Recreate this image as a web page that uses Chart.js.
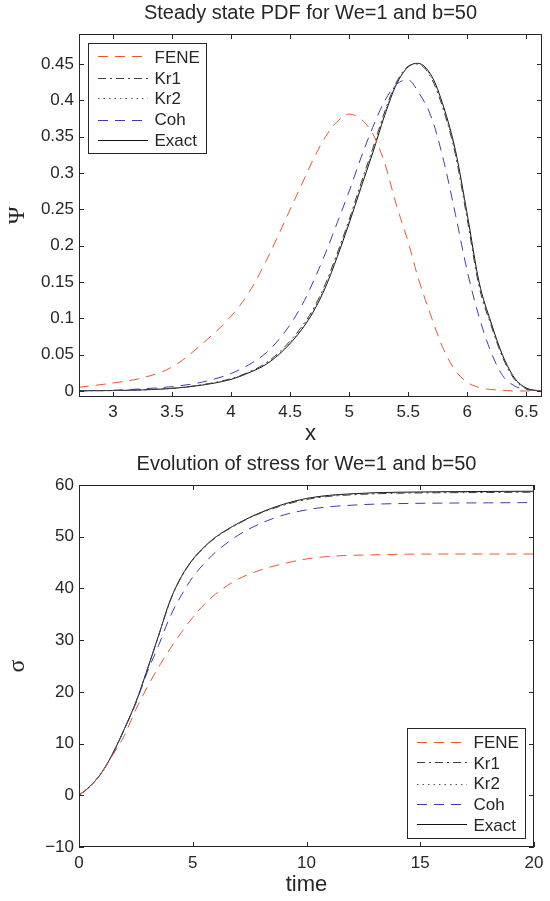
<!DOCTYPE html>
<html>
<head>
<meta charset="utf-8">
<title>Steady state PDF / Evolution of stress</title>
<script src="https://cdn.jsdelivr.net/npm/chart.js@4.4.1/dist/chart.umd.min.js"></script>
<style>
  html, body { margin: 0; padding: 0; background: #fff; }
  canvas { display: block; }
</style>
</head>
<body>
<canvas id="pdfChart" width="550" height="450"></canvas>
<canvas id="stressChart" width="550" height="451"></canvas>
<script>
// ------------------------
// DATA
// ------------------------
const seriesNames = ["FENE", "Kr1", "Kr2", "Coh", "Exact"];

// top panel: steady state PDF, We=1, b=50
const pdfX = [2.71, 3.0, 3.25, 3.5, 3.75, 4.0, 4.15, 4.3, 4.45, 4.6, 4.7, 4.8, 4.9, 5.0, 5.1,
              5.2, 5.3, 5.4, 5.5, 5.58, 5.7, 5.8, 5.9, 6.0, 6.1, 6.2, 6.3, 6.4, 6.5, 6.633];
const pdfFENE  = [0.005, 0.011, 0.018, 0.033, 0.064, 0.103, 0.135, 0.180, 0.232, 0.285, 0.320, 0.350, 0.371, 0.381, 0.374,
                  0.354, 0.314, 0.256, 0.205, 0.158, 0.100, 0.057, 0.028, 0.012, 0.005, 0.002, 0.001, 0, 0, 0];
const pdfKr1   = [0.0003, 0.0006, 0.0016, 0.0037, 0.0085, 0.017, 0.026, 0.039, 0.060, 0.089, 0.114, 0.148, 0.190, 0.236, 0.286,
                  0.334, 0.384, 0.425, 0.447, 0.450, 0.429, 0.386, 0.325, 0.236, 0.144, 0.091, 0.046, 0.016, 0.003, 0];
const pdfKr2   = [0.0003, 0.0006, 0.0015, 0.0036, 0.0083, 0.0165, 0.0255, 0.038, 0.058, 0.087, 0.112, 0.145, 0.187, 0.233, 0.283,
                  0.331, 0.382, 0.423, 0.446, 0.4505, 0.431, 0.388, 0.328, 0.240, 0.147, 0.093, 0.047, 0.017, 0.0035, 0];
const pdfCoh   = [0.0003, 0.001, 0.003, 0.006, 0.012, 0.024, 0.036, 0.053, 0.080, 0.118, 0.152, 0.190, 0.232, 0.275, 0.321,
                  0.363, 0.399, 0.422, 0.428, 0.413, 0.375, 0.317, 0.243, 0.165, 0.102, 0.054, 0.021, 0.007, 0.002, 0];
const pdfExact = [0.0003, 0.0006, 0.0015, 0.0035, 0.008, 0.016, 0.025, 0.037, 0.057, 0.085, 0.110, 0.143, 0.185, 0.231, 0.280,
                  0.328, 0.379, 0.422, 0.446, 0.451, 0.433, 0.391, 0.331, 0.243, 0.150, 0.095, 0.049, 0.018, 0.004, 0];

// bottom panel: evolution of stress, We=1, b=50
const stressT = [0, 0.5, 1, 1.5, 2, 2.5, 3, 3.5, 4, 4.5, 5, 5.5, 6, 7, 8, 9, 10, 11, 12, 13, 14, 16, 18, 20];
const stressFENE  = [0, 1.8, 4.4, 7.9, 11.6, 16.6, 20.9, 24.8, 28.3, 31.5, 34.4, 36.9, 38.9, 41.8, 43.6, 44.8, 45.7, 46.2, 46.4, 46.5, 46.6, 46.65, 46.65, 46.65];
const stressKr1   = [0, 1.8, 4.4, 8.2, 12.9, 18.0, 24.3, 30.9, 37.5, 42.2, 45.5, 47.9, 49.8, 52.5, 54.6, 56.1, 57.2, 57.8, 58.1, 58.3, 58.4, 58.5, 58.55, 58.6];
const stressKr2   = [0, 1.8, 4.4, 8.2, 12.9, 18.0, 24.3, 30.9, 37.6, 42.3, 45.6, 48.0, 49.9, 52.6, 54.7, 56.2, 57.3, 57.9, 58.2, 58.4, 58.5, 58.6, 58.65, 58.7];
const stressCoh   = [0, 1.8, 4.4, 8.2, 12.8, 17.8, 23.8, 29.0, 34.5, 38.7, 42.2, 44.8, 47.0, 50.3, 52.6, 54.2, 55.2, 55.8, 56.1, 56.3, 56.4, 56.5, 56.55, 56.6];
const stressExact = [0, 1.8, 4.4, 8.2, 12.9, 18.0, 24.3, 30.9, 37.6, 42.3, 45.6, 48.0, 49.9, 52.6, 54.7, 56.3, 57.4, 58.0, 58.3, 58.5, 58.6, 58.7, 58.75, 58.8];

// ------------------------
// STYLE
// ------------------------
const FONT = '"Liberation Sans", Arial, Helvetica, sans-serif';
const GREEK = '"Liberation Serif", "Times New Roman", serif';
const INK = "#262626";

const lineStyles = {
  FENE:  { color: "#f0552f", dash: [10, 7] },
  Kr1:   { color: "#404040", dash: [8, 4, 2, 4] },
  Kr2:   { color: "#555555", dash: [1.5, 4] },
  Coh:   { color: "#3b3fae", dash: [10, 7] },
  Exact: { color: "#111111", dash: [] }
};

function toPoints(xs, ys) {
  return xs.map((x, i) => ({ x: x, y: ys[i] }));
}

function makeDatasets(xs, columns) {
  return seriesNames.map((name, i) => ({
    label: name,
    data: toPoints(xs, columns[i]),
    borderColor: lineStyles[name].color,
    borderDash: lineStyles[name].dash,
    borderWidth: 1,
    pointRadius: 0,
    fill: false,
    cubicInterpolationMode: "monotone"
  }));
}

function fmtTick(v) {
  return String(+Number(v).toFixed(2)).replace("-", "\u2212");
}

// ------------------------
// PLUGINS: matlab style box + inward ticks, legend inside axes
// ------------------------
const axesBox = {
  id: "axesBox",
  afterDraw(chart) {
    const { ctx, chartArea: a, scales } = chart;
    const L = 5;
    ctx.save();
    ctx.strokeStyle = INK;
    ctx.lineWidth = 1;
    ctx.beginPath();
    scales.x.ticks.forEach(t => {
      const px = Math.round(scales.x.getPixelForValue(t.value)) + 0.5;
      ctx.moveTo(px, a.bottom); ctx.lineTo(px, a.bottom - L);
      ctx.moveTo(px, a.top); ctx.lineTo(px, a.top + L);
    });
    scales.y.ticks.forEach(t => {
      const py = Math.round(scales.y.getPixelForValue(t.value)) + 0.5;
      ctx.moveTo(a.left, py); ctx.lineTo(a.left + L, py);
      ctx.moveTo(a.right, py); ctx.lineTo(a.right - L, py);
    });
    ctx.stroke();
    ctx.strokeRect(Math.round(a.left) + 0.5, Math.round(a.top) + 0.5,
                   Math.round(a.width) - 1, Math.round(a.height) - 1);
    ctx.restore();
  }
};

const boxLegend = {
  id: "boxLegend",
  afterDraw(chart, args, opts) {
    const { ctx, chartArea: a } = chart;
    const w = 118, h = 110;
    const x0 = Math.round(opts.corner === "tl" ? a.left + 9 : a.right - 9 - w);
    const y0 = Math.round(opts.corner === "tl" ? a.top + 9 : a.bottom - 9 - h);
    ctx.save();
    ctx.fillStyle = "#fff";
    ctx.fillRect(x0, y0, w, h);
    ctx.strokeStyle = INK;
    ctx.lineWidth = 1;
    ctx.strokeRect(x0 + 0.5, y0 + 0.5, w, h);
    ctx.font = "17px " + FONT;
    ctx.textBaseline = "middle";
    ctx.textAlign = "left";
    seriesNames.forEach((name, i) => {
      const st = lineStyles[name];
      const yc = y0 + 13.7 + i * 20.8;
      // keep sample lines on even pixel rows so thin coloured dashes stay coloured
      const yl = 2 * Math.round(yc / 2) + 0.5;
      ctx.lineWidth = 1;
      ctx.strokeStyle = st.color;
      ctx.setLineDash(st.dash);
      ctx.beginPath();
      ctx.moveTo(x0 + 10, yl);
      ctx.lineTo(x0 + 60, yl);
      ctx.stroke();
      ctx.setLineDash([]);
      ctx.fillStyle = INK;
      ctx.fillText(name, x0 + 66.5, Math.round(yc) + 1.5);
    });
    ctx.restore();
  }
};

// ------------------------
// CHART BUILDER
// ------------------------
function buildChart(canvas, o) {
  return new Chart(canvas, {
    type: "line",
    data: { datasets: o.datasets },
    options: {
      responsive: false,
      animation: false,
      devicePixelRatio: 1,
      layout: { padding: { left: 0, right: 8, top: 0, bottom: 0 } },
      plugins: {
        legend: { display: false },
        tooltip: { enabled: false },
        title: {
          display: true,
          text: o.title,
          color: INK,
          fullSize: false,
          font: { family: FONT, size: 20, weight: "normal" },
          padding: o.titlePad
        },
        boxLegend: { corner: o.legendCorner }
      },
      scales: {
        x: {
          type: "linear",
          min: o.xMin, max: o.xMax,
          afterFit: s => { s.height = o.xAxisHeight; },
          grid: { display: false, drawTicks: false },
          border: { display: false },
          ticks: {
            stepSize: o.xStep, includeBounds: false, autoSkip: false, maxRotation: 0,
            padding: o.xTickPad, color: INK, font: { family: FONT, size: 17 },
            callback: v => fmtTick(v)
          },
          title: {
            display: true, text: o.xTitle, color: INK,
            font: { family: FONT, size: 22 }, padding: { top: 0, bottom: 2.8 }
          }
        },
        y: {
          type: "linear",
          min: o.yMin, max: o.yMax,
          afterFit: s => { s.width = 79; },
          grid: { display: false, drawTicks: false },
          border: { display: false },
          ticks: {
            stepSize: o.yStep, includeBounds: false, autoSkip: false,
            padding: 5, color: INK, font: { family: FONT, size: 17 },
            callback: v => fmtTick(v)
          },
          title: {
            display: true, text: o.yTitle, color: INK,
            font: { family: GREEK, size: 24 }, padding: { top: 3.6, bottom: 0 }
          }
        }
      }
    },
    plugins: [axesBox, boxLegend]
  });
}

// ------------------------
// DRAW
// ------------------------
buildChart(document.getElementById("pdfChart"), {
  datasets: makeDatasets(pdfX, [pdfFENE, pdfKr1, pdfKr2, pdfCoh, pdfExact]),
  title: "Steady state PDF for We=1 and b=50",
  titlePad: { top: 1, bottom: 9 },
  legendCorner: "tl",
  xMin: 2.712, xMax: 6.633, xStep: 0.5, xTitle: "x", xAxisHeight: 53, xTickPad: 5,
  yMin: -0.0083, yMax: 0.4913, yStep: 0.05, yTitle: "\u03A8"
});

buildChart(document.getElementById("stressChart"), {
  datasets: makeDatasets(stressT, [stressFENE, stressKr1, stressKr2, stressCoh, stressExact]),
  title: "Evolution of stress for We=1 and b=50",
  titlePad: { top: 2, bottom: 9 },
  legendCorner: "br",
  xMin: 0, xMax: 20, xStep: 5, xTitle: "time", xAxisHeight: 54, xTickPad: 6.5,
  yMin: -10, yMax: 60, yStep: 10, yTitle: "\u03C3"
});
</script>
</body>
</html>
